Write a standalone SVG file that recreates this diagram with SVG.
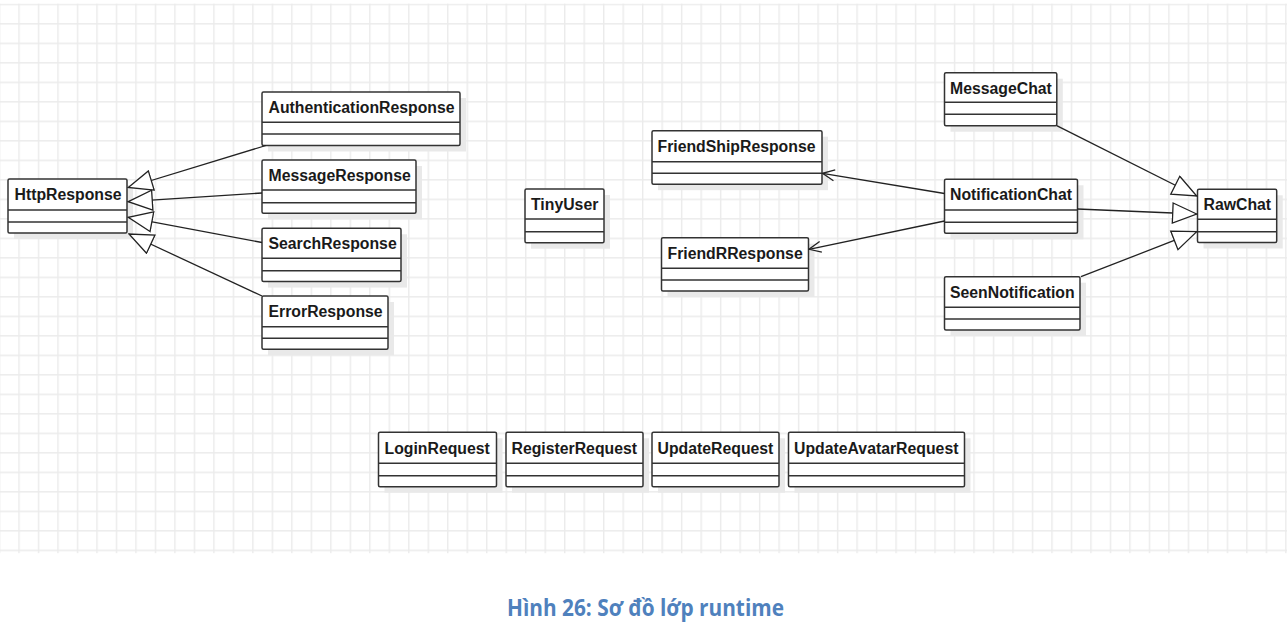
<svg xmlns="http://www.w3.org/2000/svg" width="1287" height="629" viewBox="0 0 1287 629">
<style>
.sh{fill:#e9e9e9}
.bx{fill:#ffffff;stroke:#333333;stroke-width:1.5}
.dv{stroke:#333333;stroke-width:1.5}
.lb{font-family:"Liberation Sans",Arial,sans-serif;font-weight:bold;font-size:15.8px;fill:#1a1a1a}
.cn{fill:none;stroke:#222222;stroke-width:1.3}
.cap{font-family:"Open Sans","Noto Sans",sans-serif;font-weight:bold;font-size:22.5px;fill:#4f81bd}
</style>
<defs>
<pattern id="grid" x="18.3" y="3.6" width="19.49" height="19.5" patternUnits="userSpaceOnUse">
<path d="M0 0.7 H19.49 M0.7 0 V19.5" stroke="#ebebeb" stroke-width="1.4" fill="none"/>
</pattern>
<marker id="tri" viewBox="0 0 26 22" refX="25" refY="11" markerWidth="26" markerHeight="22" markerUnits="userSpaceOnUse" orient="auto">
<path d="M1 1 L25 11 L1 21 Z" fill="#ffffff" stroke="#222222" stroke-width="1.3"/>
</marker>
<marker id="open" viewBox="0 0 14 14" refX="13" refY="7" markerWidth="14" markerHeight="14" markerUnits="userSpaceOnUse" orient="auto">
<path d="M1 1.5 L13 7 L1 12.5" fill="none" stroke="#222222" stroke-width="1.3"/>
</marker>
</defs>
<rect x="0" y="0" width="1287" height="629" fill="#ffffff"/>
<rect x="0" y="3.6" width="1287" height="549.6" fill="url(#grid)"/>

<g id="HttpResponse">
<rect class="sh" x="14" y="185" width="119" height="54"/>
<rect class="bx" x="8" y="179" width="119" height="54" rx="1.5"/>
<path class="dv" d="M8 210 H127 M8 222 H127"/>
<text class="lb" x="14.5" y="200">HttpResponse</text>
</g>

<g id="AuthenticationResponse">
<rect class="sh" x="268" y="98" width="198" height="53.5"/>
<rect class="bx" x="262" y="92" width="198" height="53.5" rx="1.5"/>
<path class="dv" d="M262 122.3 H460 M262 134 H460"/>
<text class="lb" x="268.5" y="113">AuthenticationResponse</text>
</g>

<g id="MessageResponse">
<rect class="sh" x="268" y="166" width="154" height="53.3"/>
<rect class="bx" x="262" y="160" width="154" height="53.3" rx="1.5"/>
<path class="dv" d="M262 190 H416 M262 202.7 H416"/>
<text class="lb" x="268.5" y="181">MessageResponse</text>
</g>

<g id="SearchResponse">
<rect class="sh" x="268" y="234.3" width="139" height="53.3"/>
<rect class="bx" x="262" y="228.3" width="139" height="53.3" rx="1.5"/>
<path class="dv" d="M262 258.3 H401 M262 270.7 H401"/>
<text class="lb" x="268.5" y="249.3">SearchResponse</text>
</g>

<g id="ErrorResponse">
<rect class="sh" x="268" y="302" width="126" height="53.3"/>
<rect class="bx" x="262" y="296" width="126" height="53.3" rx="1.5"/>
<path class="dv" d="M262 326.7 H388 M262 338.3 H388"/>
<text class="lb" x="268.5" y="317">ErrorResponse</text>
</g>

<g id="TinyUser">
<rect class="sh" x="531" y="195" width="79" height="53.7"/>
<rect class="bx" x="525" y="189" width="79" height="53.7" rx="1.5"/>
<path class="dv" d="M525 219 H604 M525 231.7 H604"/>
<text class="lb" x="531" y="210">TinyUser</text>
</g>

<g id="FriendShipResponse">
<rect class="sh" x="658" y="136.7" width="170" height="53.5"/>
<rect class="bx" x="652" y="130.7" width="170" height="53.5" rx="1.5"/>
<path class="dv" d="M652 161.7 H822 M652 173.3 H822"/>
<text class="lb" x="657.5" y="151.7">FriendShipResponse</text>
</g>

<g id="FriendRResponse">
<rect class="sh" x="667.5" y="243.7" width="147" height="53.3"/>
<rect class="bx" x="661.5" y="237.7" width="147" height="53.3" rx="1.5"/>
<path class="dv" d="M661.5 268.3 H808.5 M661.5 280 H808.5"/>
<text class="lb" x="667.5" y="258.7">FriendRResponse</text>
</g>

<g id="MessageChat">
<rect class="sh" x="950.5" y="78.7" width="112.3" height="53"/>
<rect class="bx" x="944.5" y="72.7" width="112.3" height="53" rx="1.5"/>
<path class="dv" d="M944.5 102.3 H1056.8 M944.5 114.3 H1056.8"/>
<text class="lb" x="950" y="93.7">MessageChat</text>
</g>

<g id="NotificationChat">
<rect class="sh" x="950.5" y="185.3" width="133" height="54"/>
<rect class="bx" x="944.5" y="179.3" width="133" height="54" rx="1.5"/>
<path class="dv" d="M944.5 210 H1077.5 M944.5 222.3 H1077.5"/>
<text class="lb" x="950" y="200.3">NotificationChat</text>
</g>

<g id="SeenNotification">
<rect class="sh" x="950.5" y="282.7" width="135.5" height="53.3"/>
<rect class="bx" x="944.5" y="276.7" width="135.5" height="53.3" rx="1.5"/>
<path class="dv" d="M944.5 307.3 H1080 M944.5 319 H1080"/>
<text class="lb" x="950" y="297.7">SeenNotification</text>
</g>

<g id="RawChat">
<rect class="sh" x="1203.5" y="195.3" width="79.2" height="53.2"/>
<rect class="bx" x="1197.5" y="189.3" width="79.2" height="53.2" rx="1.5"/>
<path class="dv" d="M1197.5 219.3 H1276.7 M1197.5 231.7 H1276.7"/>
<text class="lb" x="1203.5" y="210.3">RawChat</text>
</g>

<g id="LoginRequest">
<rect class="sh" x="384.5" y="438.3" width="118" height="54.4"/>
<rect class="bx" x="378.5" y="432.3" width="118" height="54.4" rx="1.5"/>
<path class="dv" d="M378.5 463.3 H496.5 M378.5 475.7 H496.5"/>
<text class="lb" x="384.5" y="453.5">LoginRequest</text>
</g>

<g id="RegisterRequest">
<rect class="sh" x="512" y="438.3" width="137" height="54.4"/>
<rect class="bx" x="506" y="432.3" width="137" height="54.4" rx="1.5"/>
<path class="dv" d="M506 463.3 H643 M506 475.7 H643"/>
<text class="lb" x="511.5" y="453.5">RegisterRequest</text>
</g>

<g id="UpdateRequest">
<rect class="sh" x="658" y="438.3" width="127" height="54.4"/>
<rect class="bx" x="652" y="432.3" width="127" height="54.4" rx="1.5"/>
<path class="dv" d="M652 463.3 H779 M652 475.7 H779"/>
<text class="lb" x="657.5" y="453.5">UpdateRequest</text>
</g>

<g id="UpdateAvatarRequest">
<rect class="sh" x="794.5" y="438.3" width="176" height="54.4"/>
<rect class="bx" x="788.5" y="432.3" width="176" height="54.4" rx="1.5"/>
<path class="dv" d="M788.5 463.3 H964.5 M788.5 475.7 H964.5"/>
<text class="lb" x="794" y="453.5">UpdateAvatarRequest</text>
</g>

<g id="connectors">
<path class="cn" d="M266 145.5 L128.3 187.5" marker-end="url(#tri)"/>
<path class="cn" d="M262 193 L128.3 201.7" marker-end="url(#tri)"/>
<path class="cn" d="M262 242.5 L128.3 217.3" marker-end="url(#tri)"/>
<path class="cn" d="M262 296 L129 234" marker-end="url(#tri)"/>
<path class="cn" d="M1056.7 125.7 L1196.7 196" marker-end="url(#tri)"/>
<path class="cn" d="M1077.3 209 L1196.7 214" marker-end="url(#tri)"/>
<path class="cn" d="M1081 276.7 L1196.7 231.7" marker-end="url(#tri)"/>
<path class="cn" d="M944.5 193.5 L822.5 173.3" marker-end="url(#open)"/>
<path class="cn" d="M944.5 221 L809 249.3" marker-end="url(#open)"/>
</g>

<text class="cap" x="507" y="615.7" textLength="277" lengthAdjust="spacingAndGlyphs">Hình 26: Sơ đồ lớp runtime</text>
</svg>
